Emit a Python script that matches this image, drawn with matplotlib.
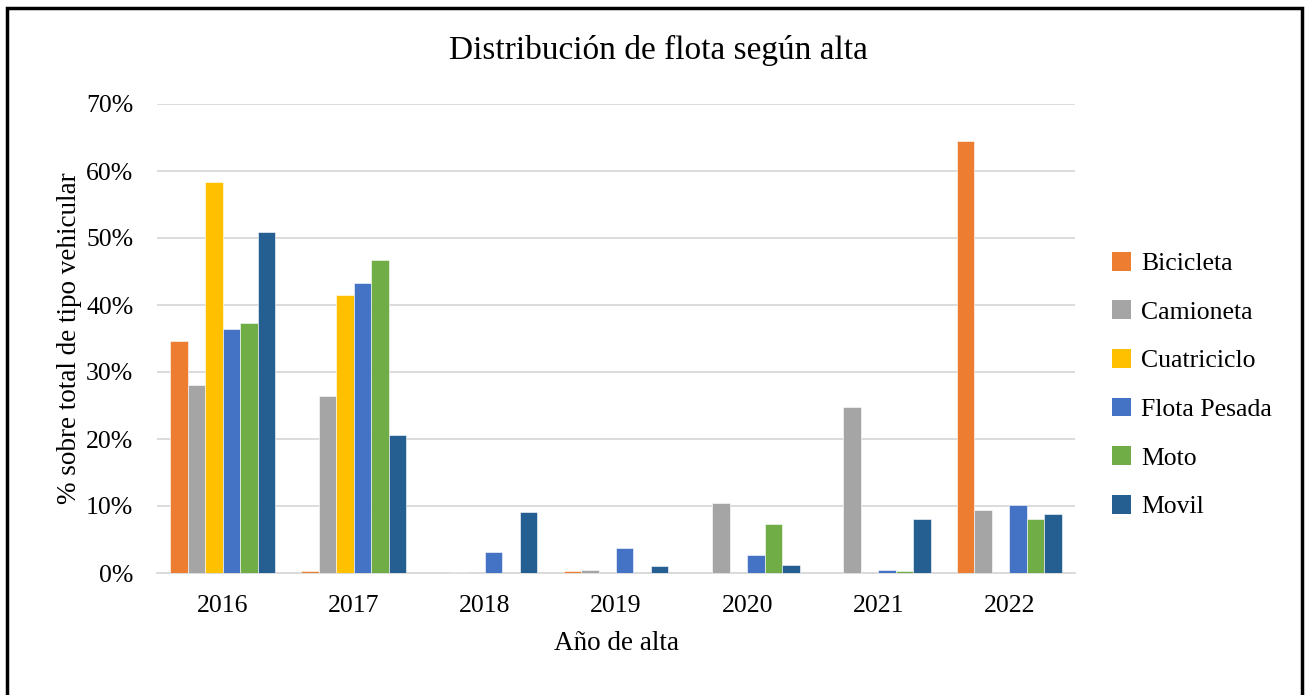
import matplotlib
matplotlib.use("Agg")
import matplotlib.pyplot as plt
import numpy as np
from matplotlib.patches import Rectangle, Patch

years = ["2016", "2017", "2018", "2019", "2020", "2021", "2022"]
series_names = ["Bicicleta", "Camioneta", "Cuatriciclo", "Flota Pesada", "Moto", "Movil"]
bicicleta = [34.7, 0.3, 0.0, 0.3, 0.0, 0.0, 64.5]
camioneta = [28.0, 26.4, 0.2, 0.4, 10.4, 24.8, 9.4]
cuatriciclo = [58.4, 41.5, 0.0, 0.0, 0.0, 0.0, 0.0]
flota_pesada = [36.4, 43.3, 3.1, 3.7, 2.7, 0.4, 10.1]
moto = [37.3, 46.7, 0.0, 0.0, 7.3, 0.3, 8.1]
movil = [50.9, 20.6, 9.1, 1.0, 1.2, 8.1, 8.8]
colors = ["#ED7D31", "#A5A5A5", "#FFC000", "#4472C4", "#70AD47", "#255E91"]
yticks = [0, 10, 20, 30, 40, 50, 60, 70]

values = [bicicleta, camioneta, cuatriciclo, flota_pesada, moto, movil]

plt.rcParams['font.family'] = ['Liberation Serif', 'DejaVu Serif']

W, H = 1310, 695
fig = plt.figure(figsize=(W / 100, H / 100), dpi=100)
ax = fig.add_axes([157 / W, 1 - 573 / H, (1075 - 157) / W, (573 - 104) / H])

x = np.arange(len(years))
n = len(series_names)
bw = 0.8 / n
for i, (name, vals, c) in enumerate(zip(series_names, values, colors)):
    ax.bar(x - 0.4 + bw * (i + 0.5), vals, width=bw, color=c, label=name,
           edgecolor='white', linewidth=0.4, zorder=3)

ax.set_xlim(-0.5, len(years) - 0.5)
ax.set_ylim(0, 70)
ax.set_yticks(yticks)
ax.set_yticklabels([f"{t}%" for t in yticks], fontsize=18.5)
ax.set_xticks(x)
ax.set_xticklabels(years, fontsize=18.5)
ax.tick_params(axis='both', length=0)
ax.tick_params(axis='y', pad=17)
ax.tick_params(axis='x', pad=16)
ax.grid(axis='y', color='#D9D9D9', linewidth=1.3, zorder=0)
for s in ['top', 'right', 'left']:
    ax.spines[s].set_visible(False)
ax.spines['bottom'].set_color('#D9D9D9')
ax.spines['bottom'].set_linewidth(1.3)

ax.set_xlabel("Año de alta", fontsize=19.5, labelpad=10)
ax.set_ylabel("% sobre total de tipo vehicular", fontsize=19.5, labelpad=3)
fig.text(658 / W, 1 - 50 / H, "Distribución de flota según alta", fontsize=24,
         ha='center', va='center')

handles = [Patch(facecolor=c, label=nm) for nm, c in zip(series_names, colors)]
fig.legend(handles=handles, loc='center left', bbox_to_anchor=(1104 / W, 1 - 385 / H),
           frameon=False, fontsize=18.5, handlelength=0.75, handleheight=0.75,
           handletextpad=0.4, labelspacing=0.98, borderaxespad=0, borderpad=0.3)

fig.patches.append(Rectangle((7 / W, -0.05), (1302 - 7) / W, 1 - 8 / H + 0.05,
                             transform=fig.transFigure, fill=False,
                             edgecolor='black', linewidth=2.5))

fig.savefig("out.png", dpi=100, facecolor='white')
